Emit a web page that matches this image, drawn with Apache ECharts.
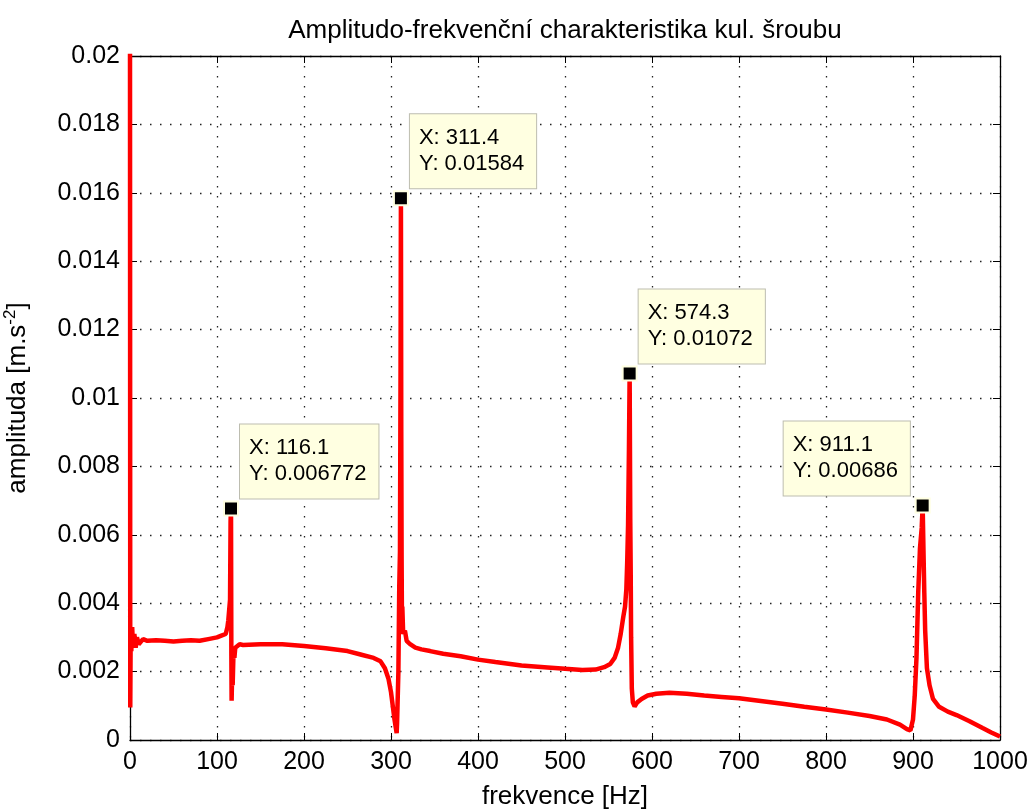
<!DOCTYPE html>
<html>
<head>
<meta charset="utf-8">
<title>Amplitudo-frekvenční charakteristika</title>
<script src="https://cdn.jsdelivr.net/npm/echarts@6/dist/echarts.min.js"></script>
<style>
    html, body {margin: 0; padding: 0; background: #fff;}
    #graf {width: 1030px; height: 810px;}
</style>
</head>
<body>
<div id="graf"></div>
<script>
// spektrum (frekvence v Hz, amplituda v m.s^-2)
var frekvence = [0, 0.3, 0.8, 1.5, 2.5, 3.5, 5, 6.5, 8, 10, 15, 20, 30, 40, 50, 60, 70, 80, 90, 100,
    105, 110, 112, 113, 114, 115, 115.6, 116.1, 116.5, 116.8, 117.3, 118, 119, 120, 121, 123, 126, 130,
    150, 175, 200, 225, 250, 265, 280, 288, 293, 297, 300, 302, 304, 306.5, 307, 308.5, 309.5, 310.3,
    311, 311.4, 311.8, 312.2, 312.6, 313, 314, 316, 318, 322, 328, 335, 345, 360, 380, 400, 420, 450,
    480, 500, 520, 535, 545, 552, 557, 561, 564, 567, 569, 570.5, 571.5, 572.5, 573.5, 574.3, 575,
    575.5, 576, 576.8, 578, 580, 583, 588, 595, 605, 620, 640, 660, 680, 700, 725, 750, 775, 800, 825,
    850, 870, 885, 893, 897, 900, 902, 904, 906, 908, 910, 911.1, 912, 913, 914, 916, 919, 923, 930,
    940, 950, 965, 980, 990, 1000];
var amplituda = [0.0205, 0.00095, 0.0032, 0.0026, 0.0033, 0.0027, 0.0031, 0.0027, 0.003, 0.0028,
    0.00295, 0.0029, 0.00292, 0.0029, 0.00288, 0.0029, 0.00292, 0.0029, 0.00295, 0.003,
    0.00305, 0.0031, 0.0033, 0.0035, 0.0038, 0.0041, 0.0064, 0.006772, 0.0025, 0.00115, 0.0018,
    0.0016, 0.0026, 0.0024, 0.0027, 0.00265, 0.0028, 0.00278,
    0.0028, 0.0028, 0.00275, 0.00268, 0.0026, 0.0025, 0.0024, 0.0023, 0.0021, 0.0018, 0.0014, 0.001,
    0.0006, 0.0002, 0.0005, 0.002, 0.0045, 0.0055,
    0.011, 0.01584, 0.009, 0.0053, 0.0034, 0.0039, 0.0031, 0.0032, 0.0029, 0.0028, 0.0027, 0.00265,
    0.0026, 0.00252, 0.00245, 0.00235, 0.00228, 0.00218,
    0.00212, 0.00208, 0.00205, 0.00206, 0.00213, 0.00222, 0.0024, 0.0027, 0.0031, 0.0036, 0.0039,
    0.0044, 0.0052, 0.0063, 0.0085, 0.01072, 0.0065,
    0.005, 0.003, 0.0015, 0.0011, 0.00098, 0.0011, 0.0012, 0.0013, 0.00135, 0.00138, 0.00135, 0.0013,
    0.00126, 0.00122, 0.00114, 0.00106, 0.00097, 0.00089, 0.0008,
    0.0007, 0.0006, 0.00045, 0.00032, 0.00028, 0.0006, 0.0013, 0.0024, 0.0043, 0.0056, 0.0062,
    0.00686, 0.0056, 0.0043, 0.0032, 0.0021, 0.0016, 0.0012, 0.00097,
    0.00083, 0.00073, 0.00055, 0.00035, 0.00022, 0.0001];

// oznacene vrcholy (data tips)
var vrcholX = [116.1, 311.4, 574.3, 911.1];
var vrcholY = [0.006772, 0.01584, 0.01072, 0.00686];

var xTicks = [0, 100, 200, 300, 400, 500, 600, 700, 800, 900, 1000];
var yTicks = [0, 0.002, 0.004, 0.006, 0.008, 0.01, 0.012, 0.014, 0.016, 0.018, 0.02];

var pismo = '"Liberation Sans", Arial, sans-serif';

function osa(pozice, je, popisky) {
    var o = {
        type: 'value',
        position: pozice,
        min: je === 'x' ? xTicks[0] : yTicks[0],
        max: je === 'x' ? xTicks[xTicks.length - 1] : yTicks[yTicks.length - 1],
        interval: je === 'x' ? xTicks[1] - xTicks[0] : yTicks[1] - yTicks[0],
        axisLine: {show: true, onZero: false, lineStyle: {color: '#000', width: 1.3}},
        axisTick: {show: true, inside: true, length: 7, lineStyle: {color: '#000', width: 1}},
        axisLabel: {
            show: popisky, color: '#000', fontSize: 25, fontFamily: pismo, margin: 10,
            formatter: function (v) {
                return String(v);
            }
        },
        splitLine: {show: popisky, lineStyle: {color: '#222', width: 1.3, type: [1.5, 8.5]}}
    };
    return o;
}

function datovySoubor() {
    var d = [];
    for (var i = 0; i < frekvence.length; i++) {
        d.push([frekvence[i], amplituda[i]]);
    }
    return d;
}

function vrcholy() {
    var d = [];
    for (var i = 0; i < vrcholX.length; i++) {
        var vlevo = i === vrcholX.length - 1;
        d.push({
            value: [vrcholX[i], vrcholY[i]],
            label: {
                position: vlevo ? [-131, -2] : [17, -2]
            }
        });
    }
    return d;
}

var osaX = osa('bottom', 'x', true);
osaX.name = 'frekvence [Hz]';
osaX.nameLocation = 'middle';
osaX.nameGap = 44;
osaX.nameTextStyle = {color: '#000', fontSize: 26, fontFamily: pismo};
var osaXh = osa('top', 'x', false);

var osaY = osa('left', 'y', true);
osaY.name = 'amplituda [m.s{sup|-2}]';
osaY.nameLocation = 'middle';
osaY.nameGap = 97;
osaY.nameTextStyle = {
    color: '#000', fontSize: 26, fontFamily: pismo,
    rich: {sup: {fontSize: 17, fontFamily: pismo, color: '#000', padding: [0, 0, 14, 0]}}
};
var osaYp = osa('right', 'y', false);

var graf = echarts.init(document.getElementById('graf'));
graf.setOption({
    backgroundColor: '#fff',
    animation: false,
    title: {
        text: 'Amplitudo-frekvenční charakteristika kul. šroubu',
        left: 560,
        top: 13,
        textAlign: 'center',
        textStyle: {color: '#000', fontSize: 26, fontWeight: 'normal', fontFamily: pismo}
    },
    grid: {left: 130, right: 30, top: 56, bottom: 70, outerBoundsMode: 'none', containLabel: false},
    xAxis: [osaX, osaXh],
    yAxis: [osaY, osaYp],
    series: [{
            name: 'spektrum',
            type: 'line',
            xAxisIndex: 0,
            yAxisIndex: 0,
            showSymbol: false,
            clip: true,
            lineStyle: {color: '#ff0000', width: 4.5},
            data: datovySoubor()
        }, {
            name: 'vrcholy',
            type: 'scatter',
            xAxisIndex: 0,
            yAxisIndex: 0,
            symbol: 'rect',
            symbolSize: 14,
            z: 5,
            itemStyle: {color: '#000', borderColor: '#ffffe1', borderWidth: 2, opacity: 1},
            label: {
                show: true,
                align: 'left',
                verticalAlign: 'bottom',
                color: '#000',
                fontSize: 22,
                fontFamily: pismo,
                lineHeight: 26,
                backgroundColor: '#ffffe1',
                borderColor: '#bdbdb0',
                borderWidth: 1,
                padding: [11, 12, 11, 9],
                formatter: function (p) {
                    return 'X: ' + p.value[0] + '\nY: ' + p.value[1];
                }
            },
            data: vrcholy()
        }]
});
</script>
</body>
</html>
